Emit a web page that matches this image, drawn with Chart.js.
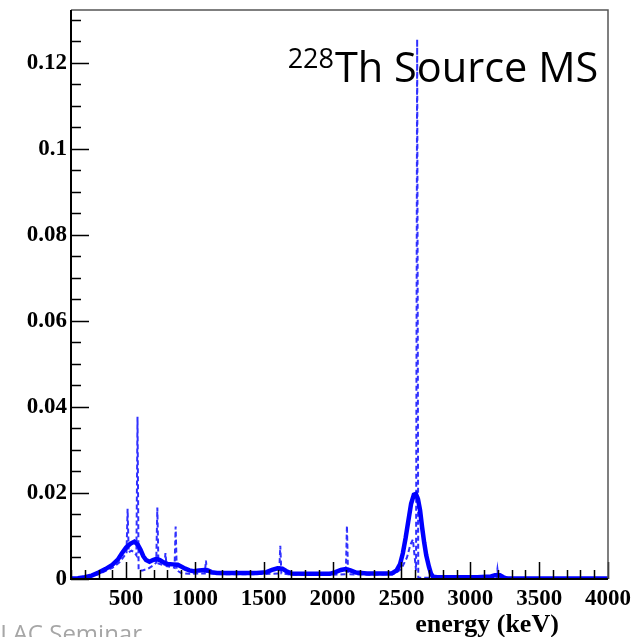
<!DOCTYPE html>
<html>
<head>
<meta charset="utf-8">
<title>228Th Source MS</title>
<script src="https://cdn.jsdelivr.net/npm/chart.js@4.4.1/dist/chart.umd.min.js"></script>
<style>
  html, body { margin: 0; padding: 0; background: #fff; }
  canvas { display: block; }
</style>
</head>
<body>
<canvas id="spectrum" width="637" height="637"></canvas>
<script>
// Spectrum, smeared (solid) and true (dashed), energy in keV
const smearedEnergy = [100, 150, 200, 250, 300, 350, 400, 440, 470, 500, 530, 560, 585, 605, 625, 645, 670, 695, 720, 745, 770, 800, 840, 875, 900, 930, 960, 990, 1030, 1070, 1095, 1120, 1160, 1250, 1350, 1450, 1520, 1560, 1600, 1635, 1665, 1700, 1800, 1900, 1980, 2020, 2060, 2095, 2130, 2170, 2250, 2350, 2430, 2465, 2490, 2510, 2530, 2550, 2570, 2590, 2605, 2620, 2635, 2650, 2665, 2680, 2700, 2715, 2730, 2760, 2900, 3050, 3150, 3180, 3215, 3240, 3270, 3400, 4000];
const smearedValue = [0.0001, 0.0002, 0.0004, 0.0008, 0.0015, 0.0023, 0.0033, 0.0045, 0.0060, 0.0073, 0.0082, 0.0087, 0.0080, 0.0068, 0.0053, 0.0044, 0.0040, 0.0044, 0.0047, 0.0044, 0.0039, 0.0035, 0.0034, 0.0033, 0.0029, 0.0024, 0.0020, 0.0018, 0.0020, 0.0021, 0.0020, 0.0016, 0.0014, 0.0014, 0.0014, 0.0014, 0.0016, 0.0021, 0.0025, 0.0024, 0.0018, 0.0013, 0.0012, 0.0012, 0.0012, 0.0016, 0.0021, 0.0023, 0.0020, 0.0015, 0.0013, 0.0013, 0.0013, 0.0020, 0.0035, 0.0060, 0.0095, 0.0135, 0.0175, 0.0196, 0.0198, 0.0186, 0.0160, 0.0120, 0.0085, 0.0055, 0.0028, 0.0012, 0.0005, 0.0004, 0.0004, 0.0004, 0.0006, 0.0009, 0.0009, 0.0004, 0.0001, 0.0001, 0.0001];

const trueEnergy = [100, 200, 300, 400, 450, 490, 503, 511, 519, 540, 560, 575, 583, 591, 620, 660, 700, 719, 727, 735, 765, 778, 786, 794, 830, 852, 860, 868, 900, 960, 1040, 1072, 1080, 1088, 1200, 1400, 1550, 1612, 1620, 1628, 1700, 2000, 2096, 2104, 2112, 2300, 2450, 2500, 2540, 2565, 2583, 2598, 2606, 2614, 2622, 2700, 3000, 3189, 3197, 3205, 4000];
const trueValue = [0.0001, 0.0003, 0.0011, 0.0026, 0.0038, 0.0055, 0.0058, 0.0163, 0.0062, 0.0066, 0.0062, 0.0055, 0.0377, 0.0020, 0.0020, 0.0024, 0.0032, 0.0038, 0.0166, 0.0036, 0.0033, 0.0030, 0.0060, 0.0030, 0.0028, 0.0026, 0.0122, 0.0020, 0.0014, 0.0012, 0.0013, 0.0013, 0.0043, 0.0013, 0.0011, 0.0011, 0.0012, 0.0013, 0.0077, 0.0013, 0.0010, 0.0010, 0.0011, 0.0124, 0.0011, 0.0010, 0.0012, 0.0024, 0.0050, 0.0080, 0.0092, 0.0045, 0.0020, 0.1255, 0.0003, 0.0003, 0.0003, 0.0003, 0.0023, 0.0002, 0.0001];

// Axis ticks
const xTicks = [500, 1000, 1500, 2000, 2500, 3000, 3500, 4000];
const yTicks = [0, 0.02, 0.04, 0.06, 0.08, 0.1, 0.12];
const yTickLabels = ['0', '0.02', '0.04', '0.06', '0.08', '0.1', '0.12'];

const serif = "'Liberation Serif', 'DejaVu Serif', serif";

// ROOT-style frame: ticks point into the plot
const frameTicks = {
  id: 'frameTicks',
  afterDatasetsDraw(chart) {
    const { ctx, chartArea: a, scales: { x, y } } = chart;
    ctx.save();
    ctx.strokeStyle = '#000';
    ctx.lineWidth = 1.5;
    ctx.beginPath();
    for (let e = 100; e <= 4000; e += 100) {
      const px = Math.round(x.getPixelForValue(e)) + 0.5;
      const len = e % 500 === 0 ? 17 : 9;
      ctx.moveTo(px, a.bottom);
      ctx.lineTo(px, a.bottom - len);
    }
    for (let i = 0; i * 0.005 <= 0.1323; i++) {
      const py = Math.round(y.getPixelForValue(i * 0.005)) + 0.5;
      const len = i % 4 === 0 ? 18 : 10;
      ctx.moveTo(a.left, py);
      ctx.lineTo(a.left + len, py);
    }
    ctx.stroke();

    // top and right edges
    ctx.strokeStyle = '#555';
    ctx.beginPath();
    ctx.moveTo(a.left, a.top);
    ctx.lineTo(a.right, a.top);
    ctx.lineTo(a.right, a.bottom);
    ctx.stroke();

    // axes
    ctx.strokeStyle = '#000';
    ctx.lineWidth = 2;
    ctx.beginPath();
    ctx.moveTo(a.left, a.top);
    ctx.lineTo(a.left, a.bottom);
    ctx.lineTo(a.right, a.bottom);
    ctx.stroke();
    ctx.restore();
  },
  afterDraw(chart) {
    const { ctx } = chart;
    ctx.save();
    ctx.fillStyle = '#000';
    ctx.textBaseline = 'alphabetic';

    // title with superscript mass number
    ctx.font = "41.5px 'Open Sans', 'Noto Sans', sans-serif";
    ctx.textAlign = 'left';
    ctx.fillText('Th Source MS', 335, 82);
    ctx.font = "27px 'Open Sans', 'Noto Sans', sans-serif";
    ctx.textAlign = 'right';
    ctx.fillText('228', 334, 68);

    // axis title
    ctx.font = "bold 26px " + serif;
    ctx.textAlign = 'center';
    ctx.fillText('energy (keV)', 487, 632);

    // footer
    ctx.fillStyle = '#a6a6a6';
    ctx.font = "24px 'Open Sans', 'Noto Sans', sans-serif";
    ctx.textAlign = 'left';
    ctx.fillText('SLAC Seminar', -13, 642);
    ctx.restore();
  }
};

const toPoints = (xs, ys) => xs.map((e, i) => ({ x: e, y: ys[i] }));

new Chart(document.getElementById('spectrum'), {
  type: 'line',
  data: {
    datasets: [
      {
        label: 'smeared',
        data: toPoints(smearedEnergy, smearedValue),
        borderColor: '#0000ff',
        borderWidth: 4.5,
        pointRadius: 0,
        tension: 0,
        fill: false,
        order: 1
      },
      {
        label: 'true',
        data: toPoints(trueEnergy, trueValue),
        borderColor: '#3030ff',
        borderWidth: 2,
        borderDash: [5, 3],
        pointRadius: 0,
        tension: 0,
        fill: false,
        order: 2
      }
    ]
  },
  options: {
    responsive: false,
    animation: false,
    events: [],
    layout: { padding: { top: 10, right: 29, left: 0, bottom: 0 } },
    plugins: { legend: { display: false }, tooltip: { enabled: false } },
    scales: {
      x: {
        type: 'linear',
        min: 100,
        max: 4000,
        grid: { display: false, drawTicks: false },
        border: { display: false },
        afterBuildTicks: (s) => { s.ticks = xTicks.map(v => ({ value: v })); },
        afterFit: (s) => { s.height = 58; },
        ticks: {
          font: { family: serif, size: 23, weight: 'bold' },
          color: '#000',
          padding: 6,
          maxRotation: 0,
          autoSkip: false,
          callback: (v) => String(v)
        }
      },
      y: {
        type: 'linear',
        min: 0,
        max: 0.1323,
        grid: { display: false, drawTicks: false },
        border: { display: false },
        afterBuildTicks: (s) => { s.ticks = yTicks.map(v => ({ value: v })); },
        afterFit: (s) => { s.width = 71; },
        ticks: {
          font: { family: serif, size: 23, weight: 'bold', lineHeight: 0.4 },
          color: '#000',
          padding: 4,
          autoSkip: false,
          callback: (v) => yTickLabels[yTicks.indexOf(v)]
        }
      }
    }
  },
  plugins: [frameTicks]
});
</script>
</body>
</html>
